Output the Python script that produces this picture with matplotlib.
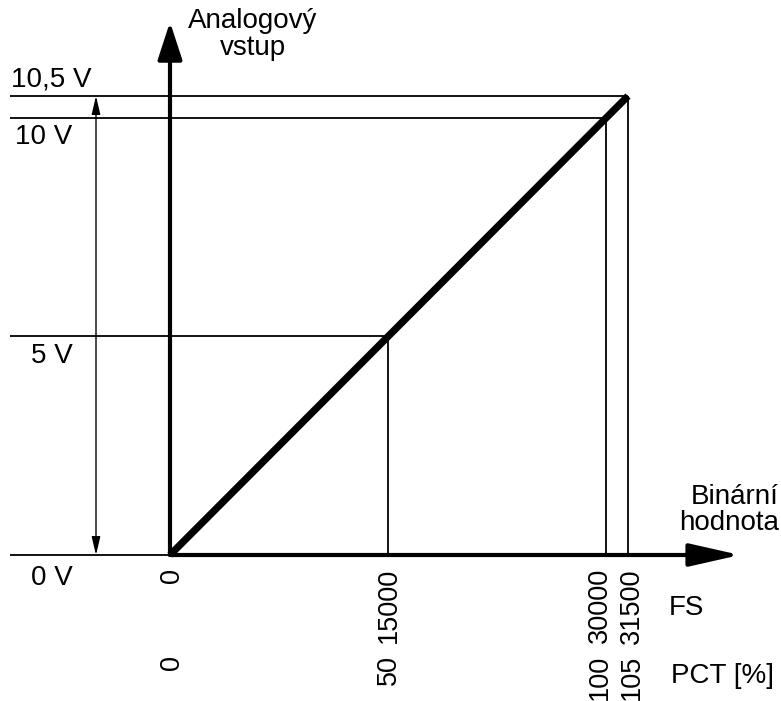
import matplotlib
matplotlib.use("Agg")
import matplotlib.pyplot as plt

plt.rcParams['font.family'] = ['Liberation Sans', 'DejaVu Sans']

# ---- data ----
fs_values = [0, 15000, 30000, 31500]
fs_labels = ["0", "15000", "30000", "31500"]
pct_labels = ["0", "50", "100", "105"]
volt_levels = [0, 5, 10, 10.5]
volt_labels = ["0 V", "5 V", "10 V", "10,5 V"]
line_fs = [0, 31500]
line_volt = [0, 10.5]
y_title = "Analogový\nvstup"
x_title = "Binární\nhodnota"
row_titles = ["FS", "PCT [%]"]

# ---- layout (pixel geometry of the 781x701 canvas) ----
W, H = 781, 701
ox, oy = 170, 555          # origin in pixels
sx = (628 - 170) / 31500   # px per FS unit
sy = (555 - 96) / 10.5     # px per volt

def X(px):
    return (px - ox) / sx

def Y(py):
    return (oy - py) / sy

fig = plt.figure(figsize=(W / 100, H / 100), dpi=100)
ax = fig.add_axes([0, 0, 1, 1])
ax.set_xlim(X(0), X(W))
ax.set_ylim(Y(H), Y(0))
ax.axis('off')

thin = 1.3
fs_text = 20
fs_tick = 19.5

# horizontal reference lines and vertical drop lines
left = X(10)
for v, f in zip(volt_levels, fs_values):
    ax.plot([left, f], [v, v], color='black', lw=thin, solid_capstyle='butt')
    if f > 0:
        ax.plot([f, f], [0, v], color='black', lw=thin, solid_capstyle='butt')

# transfer characteristic
ax.plot(line_fs, line_volt, color='black', lw=5.2, solid_capstyle='butt', zorder=5)

# axes with arrowheads
ax.annotate('', xy=(0, Y(22)), xytext=(0, 0),
            arrowprops=dict(arrowstyle='-|>,head_length=23,head_width=7.5',
                            lw=3, color='black', shrinkA=0, shrinkB=0,
                            mutation_scale=1), zorder=6)
ax.annotate('', xy=(X(740), 0), xytext=(0, 0),
            arrowprops=dict(arrowstyle='-|>,head_length=31,head_width=7',
                            lw=3, color='black', shrinkA=0, shrinkB=0,
                            mutation_scale=1), zorder=6)

# dimension arrow 0 .. 10.5 V
ax.annotate('', xy=(X(96), volt_levels[-1]), xytext=(X(96), volt_levels[0]),
            arrowprops=dict(arrowstyle='<|-|>,head_length=11,head_width=2.6',
                            lw=1.0, color='black', shrinkA=0, shrinkB=0,
                            mutation_scale=1))

# voltage labels
volt_pos = {"0 V": (73, 578, 'right'), "5 V": (73, 356, 'right'),
            "10 V": (72, 137, 'right'), "10,5 V": (11, 80, 'left')}
for lab in volt_labels:
    px, py, ha = volt_pos[lab]
    ax.text(X(px), Y(py), lab, ha=ha, va='center', fontsize=fs_text)

# FS and PCT tick labels (rotated)
offsets = [2, 1, -6, 4]
for f, lf, lp, d in zip(fs_values, fs_labels, pct_labels, offsets):
    xx = X(ox + f * sx + d)
    ax.text(xx, Y(568), lf, rotation=90, ha='center', va='top', fontsize=fs_tick)
    ax.text(xx, Y(655), lp, rotation=90, ha='center', va='top', fontsize=fs_tick)

ax.text(X(669), Y(608), row_titles[0], ha='left', va='center', fontsize=fs_text)
ax.text(X(671), Y(676), row_titles[1], ha='left', va='center', fontsize=fs_text)

# axis titles
ax.text(X(253), Y(35), y_title, ha='center', va='center', fontsize=fs_text,
        multialignment='center', linespacing=1.05)
ax.text(X(779), Y(510), x_title, ha='right', va='center', fontsize=fs_text,
        multialignment='right', linespacing=1.05)

fig.savefig('out.png', dpi=100)
